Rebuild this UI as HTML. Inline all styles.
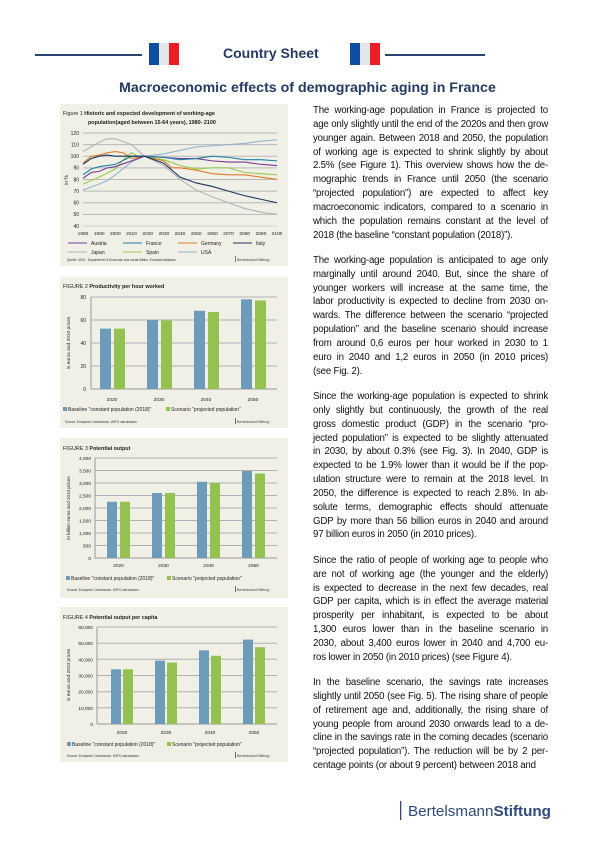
<!DOCTYPE html>
<html><head><meta charset="utf-8"><style>
html,body{margin:0;padding:0;background:#fff;}
body{width:610px;height:856px;position:relative;overflow:hidden;font-family:"Liberation Sans",Arial,sans-serif;}
.hdr{position:absolute;color:#233a66;font-weight:bold;white-space:nowrap;}
.txt{position:absolute;left:313px;width:235px;font-size:9.7px;letter-spacing:-0.2px;line-height:13.85px;color:#111;}
.txt div{text-align:justify;text-align-last:justify;white-space:nowrap;}
.txt div.l{text-align-last:left;}
.p{margin-bottom:11.5px;}
svg text{font-family:"Liberation Sans",Arial,sans-serif;}
</style></head><body>
<svg width="610" height="856" style="position:absolute;left:0;top:0">
<rect x="35" y="54" width="107" height="2" fill="#2c4270"/>
<rect x="385" y="54" width="100" height="2" fill="#2c4270"/>
<rect x="149" y="43" width="10" height="22" fill="#0d4fa3"/><rect x="159" y="43" width="10" height="22" fill="#e3e6e6"/><rect x="169" y="43" width="10" height="22" fill="#ee1c25"/>
<rect x="350" y="43" width="10" height="22" fill="#0d4fa3"/><rect x="360" y="43" width="10" height="22" fill="#e3e6e6"/><rect x="370" y="43" width="10" height="22" fill="#ee1c25"/>

<rect x="60" y="104" width="228" height="162" fill="#f0f0e7"/>
<rect x="60" y="277" width="228" height="151" fill="#f0f0e7"/>
<rect x="60" y="438" width="228" height="160" fill="#f0f0e7"/>
<rect x="60" y="607" width="228" height="155" fill="#f0f0e7"/>

<!-- FIG 1 -->
<text x="63" y="115" font-size="5.4" fill="#222">Figure 1  <tspan font-weight="bold">Historic and expected development of working-age</tspan></text>
<text x="88" y="124" font-size="5.4" font-weight="bold" fill="#222">population(aged between 15-64 years), 1980- 2100</text>
<g stroke="#b8b8b8" stroke-width="1">
<line x1="83" y1="133" x2="277" y2="133"/><line x1="83" y1="144.6" x2="277" y2="144.6"/><line x1="83" y1="156.2" x2="277" y2="156.2"/><line x1="83" y1="167.9" x2="277" y2="167.9"/><line x1="83" y1="179.5" x2="277" y2="179.5"/><line x1="83" y1="191.1" x2="277" y2="191.1"/><line x1="83" y1="202.7" x2="277" y2="202.7"/><line x1="83" y1="214.4" x2="277" y2="214.4"/>
</g>
<line x1="83" y1="226" x2="277" y2="226" stroke="#c8c8c8" stroke-width="1.5" stroke-dasharray="1,1"/>
<g font-size="5" fill="#222" text-anchor="end">
<text x="79" y="135">120</text><text x="79" y="146.5">110</text><text x="79" y="158">100</text><text x="79" y="169.7">90</text><text x="79" y="181.3">80</text><text x="79" y="193">70</text><text x="79" y="204.5">60</text><text x="79" y="216.2">50</text><text x="79" y="227.8">40</text>
</g>
<text transform="translate(68,180) rotate(-90)" font-size="5" text-anchor="middle" fill="#222">in %</text>
<g font-size="4.8" fill="#222" text-anchor="middle">
<text x="83" y="235">1980</text><text x="99.2" y="235">1990</text><text x="115.3" y="235">2000</text><text x="131.5" y="235">2010</text><text x="147.7" y="235">2020</text><text x="163.9" y="235">2030</text><text x="180" y="235">2040</text><text x="196.2" y="235">2050</text><text x="212.4" y="235">2060</text><text x="228.5" y="235">2070</text><text x="244.7" y="235">2080</text><text x="260.9" y="235">2090</text><text x="277" y="235">2100</text>
</g>
<g transform="translate(83,226) scale(1.617,-1.163) translate(-1980,-40)" fill="none" stroke-width="1.1">
<polyline vector-effect="non-scaling-stroke" stroke="#b3b3b3" points="1980,104 1990,112 1995,115 2000,115 2010,110 2018,100 2030,92 2040,80 2050,71 2060,65 2070,60 2080,55 2090,52 2100,50"/>
<polyline vector-effect="non-scaling-stroke" stroke="#8fb4d0" points="1980,71 1990,76 1995,79 2000,84 2010,95 2018,100 2030,102 2040,105 2050,108 2060,109 2070,110 2080,111 2090,113 2100,114"/>
<polyline vector-effect="non-scaling-stroke" stroke="#9acd4b" points="1980,76 1990,82 2000,89 2005,97 2010,103 2015,99 2018,100 2030,97 2040,92 2050,89 2060,90 2070,90 2080,86 2090,85 2100,84"/>
<polyline vector-effect="non-scaling-stroke" stroke="#e07b2a" points="1980,94 1985,100 1990,101 1995,103 2000,104 2005,103 2010,98 2018,100 2030,96 2035,90 2040,90 2050,88 2060,85 2070,84 2080,84 2090,82 2100,80"/>
<polyline vector-effect="non-scaling-stroke" stroke="#7a3a95" points="1980,81 1985,86 1990,87 1995,90 2000,91 2010,96 2018,100 2030,99 2040,98 2050,98 2060,96 2070,95 2080,95 2090,93 2100,92"/>
<polyline vector-effect="non-scaling-stroke" stroke="#1f7fa8" points="1980,84 1985,89 1990,91 2000,93 2010,100 2018,100 2030,99 2040,97 2050,98 2060,100 2070,99 2080,97 2090,97 2100,96"/>
<polyline vector-effect="non-scaling-stroke" stroke="#17375e" points="1980,93 1985,98 1990,100 1995,101 2000,100 2010,100 2018,100 2030,94 2040,82 2050,77 2060,74 2070,70 2080,66 2090,63 2100,60"/>
</g>
<g font-size="5" fill="#222">
<line x1="68" y1="243" x2="87" y2="243" stroke="#7a3a95"/><text x="91" y="245">Austria</text>
<line x1="123" y1="243" x2="142" y2="243" stroke="#1f7fa8"/><text x="146" y="245">France</text>
<line x1="178" y1="243" x2="197" y2="243" stroke="#e07b2a"/><text x="201" y="245">Germany</text>
<line x1="233" y1="243" x2="252" y2="243" stroke="#17375e"/><text x="256" y="245">Italy</text>
<line x1="68" y1="252" x2="87" y2="252" stroke="#b3b3b3"/><text x="91" y="254">Japan</text>
<line x1="123" y1="252" x2="142" y2="252" stroke="#9acd4b"/><text x="146" y="254">Spain</text>
<line x1="178" y1="252" x2="197" y2="252" stroke="#8fb4d0"/><text x="201" y="254">USA</text>
</g>
<text x="67" y="261" font-size="3.2" fill="#333">Quelle: UNO - Department of Economic and social Affairs, Eurostat database.</text>
<rect x="235" y="256" width="0.6" height="6" fill="#333"/><text x="237" y="261" font-size="3.6" fill="#444">BertelsmannStiftung</text>

<!-- FIG 2 -->
<text x="63" y="288" font-size="5.4" fill="#222">FIGURE 2  <tspan font-weight="bold">Productivity per hour worked</tspan></text>
<g stroke="#b0b0b0" stroke-width="1"><line x1="91" y1="297" x2="277" y2="297"/><line x1="91" y1="320" x2="277" y2="320"/><line x1="91" y1="343" x2="277" y2="343"/><line x1="91" y1="366" x2="277" y2="366"/></g>
<line x1="91" y1="389" x2="277" y2="389" stroke="#999"/><line x1="91" y1="297" x2="91" y2="389" stroke="#999"/>
<g font-size="5" fill="#222" text-anchor="end"><text x="86" y="299">80</text><text x="86" y="322">60</text><text x="86" y="345">40</text><text x="86" y="368">20</text><text x="86" y="391">0</text></g>
<text transform="translate(70,343) rotate(-90)" font-size="4.8" text-anchor="middle" fill="#222">in euros and 2010 prices</text>
<g fill="#6d9cba"><rect x="100" y="328.6" width="11" height="60.4"/><rect x="147" y="320" width="11" height="69"/><rect x="194" y="310.8" width="11" height="78.2"/><rect x="241" y="299.3" width="11" height="89.7"/></g>
<g fill="#94c14f"><rect x="114" y="328.6" width="11" height="60.4"/><rect x="161" y="320.6" width="11" height="68.4"/><rect x="208" y="312" width="11" height="77"/><rect x="255" y="300.5" width="11" height="88.5"/></g>
<g font-size="4.8" fill="#222" text-anchor="middle"><text x="112" y="401">2020</text><text x="159" y="401">2030</text><text x="206" y="401">2040</text><text x="253" y="401">2050</text></g>
<rect x="63" y="407" width="4" height="4" fill="#6d9cba"/><text x="68" y="411" font-size="5" fill="#222">Baseline "constant population (2018)"</text>
<rect x="166" y="407" width="4" height="4" fill="#94c14f"/><text x="171" y="411" font-size="5" fill="#222">Scenario "projected population"</text>
<text x="65" y="423" font-size="3.2" fill="#333">Source: European Commission, WIFO calculations.</text>
<rect x="235" y="418" width="0.6" height="6" fill="#111"/><text x="237" y="423" font-size="3.6" fill="#444">BertelsmannStiftung</text>

<!-- FIG 3 -->
<text x="63" y="450" font-size="5.4" fill="#222">FIGURE 3  <tspan font-weight="bold">Potential output</tspan></text>
<g stroke="#b0b0b0" stroke-width="1"><line x1="95" y1="458" x2="277" y2="458"/><line x1="95" y1="470.5" x2="277" y2="470.5"/><line x1="95" y1="483" x2="277" y2="483"/><line x1="95" y1="495.5" x2="277" y2="495.5"/><line x1="95" y1="508" x2="277" y2="508"/><line x1="95" y1="520.5" x2="277" y2="520.5"/><line x1="95" y1="533" x2="277" y2="533"/><line x1="95" y1="545.5" x2="277" y2="545.5"/></g>
<line x1="95" y1="558" x2="277" y2="558" stroke="#999"/><line x1="95" y1="458" x2="95" y2="558" stroke="#999"/>
<g font-size="4.8" fill="#222" text-anchor="end"><text x="91" y="460">4,000</text><text x="91" y="472.5">3,500</text><text x="91" y="485">3,000</text><text x="91" y="497.5">2,500</text><text x="91" y="510">2,000</text><text x="91" y="522.5">1,500</text><text x="91" y="535">1,000</text><text x="91" y="547.5">500</text><text x="91" y="560">0</text></g>
<text transform="translate(70,508) rotate(-90)" font-size="4.6" text-anchor="middle" fill="#222">in billion euros and 2010 prices</text>
<g fill="#6d9cba"><rect x="107" y="501.75" width="10" height="56.25"/><rect x="152" y="493" width="10" height="65"/><rect x="197" y="481.75" width="10" height="76.25"/><rect x="242" y="471" width="10" height="87"/></g>
<g fill="#94c14f"><rect x="120" y="501.75" width="10" height="56.25"/><rect x="165" y="493" width="10" height="65"/><rect x="210" y="483" width="10" height="75"/><rect x="255" y="473.5" width="10" height="84.5"/></g>
<g font-size="4.8" fill="#222" text-anchor="middle"><text x="118.5" y="567">2020</text><text x="163.5" y="567">2030</text><text x="208.5" y="567">2040</text><text x="253.5" y="567">2050</text></g>
<rect x="66" y="576" width="4" height="4" fill="#6d9cba"/><text x="71" y="580" font-size="5" fill="#222">Baseline "constant population (2018)"</text>
<rect x="167" y="576" width="4" height="4" fill="#94c14f"/><text x="172" y="580" font-size="5" fill="#222">Scenario "projected population"</text>
<text x="67" y="591" font-size="3.2" fill="#333">Source: European Commission, WIFO calculations.</text>
<rect x="235" y="586" width="0.6" height="6" fill="#111"/><text x="237" y="591" font-size="3.6" fill="#444">BertelsmannStiftung</text>

<!-- FIG 4 -->
<text x="63" y="619" font-size="5.4" fill="#222">FIGURE 4  <tspan font-weight="bold">Potential output per capita</tspan></text>
<g stroke="#b0b0b0" stroke-width="1"><line x1="97" y1="627" x2="277" y2="627"/><line x1="97" y1="643.2" x2="277" y2="643.2"/><line x1="97" y1="659.3" x2="277" y2="659.3"/><line x1="97" y1="675.5" x2="277" y2="675.5"/><line x1="97" y1="691.7" x2="277" y2="691.7"/><line x1="97" y1="707.8" x2="277" y2="707.8"/></g>
<line x1="97" y1="724" x2="277" y2="724" stroke="#999"/><line x1="97" y1="627" x2="97" y2="724" stroke="#999"/>
<g font-size="4.8" fill="#222" text-anchor="end"><text x="93" y="629">60,000</text><text x="93" y="645.2">50,000</text><text x="93" y="661.3">40,000</text><text x="93" y="677.5">30,000</text><text x="93" y="693.7">20,000</text><text x="93" y="709.8">10,000</text><text x="93" y="726">0</text></g>
<text transform="translate(70,675) rotate(-90)" font-size="4.8" text-anchor="middle" fill="#222">in euros and 2010 prices</text>
<g fill="#6d9cba"><rect x="111" y="669.3" width="10" height="54.7"/><rect x="155" y="660.6" width="10" height="63.4"/><rect x="199" y="650.3" width="10" height="73.7"/><rect x="243" y="639.6" width="10" height="84.4"/></g>
<g fill="#94c14f"><rect x="123" y="669.3" width="10" height="54.7"/><rect x="167" y="662.6" width="10" height="61.4"/><rect x="211" y="655.8" width="10" height="68.2"/><rect x="255" y="647.2" width="10" height="76.8"/></g>
<g font-size="4.8" fill="#222" text-anchor="middle"><text x="122" y="734">2020</text><text x="166" y="734">2030</text><text x="210" y="734">2040</text><text x="254" y="734">2050</text></g>
<rect x="67" y="742" width="4" height="4" fill="#6d9cba"/><text x="72" y="746" font-size="5" fill="#222">Baseline "constant population (2018)"</text>
<rect x="167" y="742" width="4" height="4" fill="#94c14f"/><text x="172" y="746" font-size="5" fill="#222">Scenario "projected population"</text>
<text x="67" y="757" font-size="3.2" fill="#333">Source: European Commission, WIFO calculations.</text>
<rect x="235" y="752" width="0.6" height="6" fill="#111"/><text x="237" y="757" font-size="3.6" fill="#444">BertelsmannStiftung</text>

<rect x="400" y="801" width="1.3" height="19" fill="#2d4a7a"/>
<text x="408" y="816" font-size="15" fill="#2d4a7a" font-family="'DejaVu Sans',sans-serif" textLength="143" lengthAdjust="spacingAndGlyphs">Bertelsmann<tspan font-weight="bold">Stiftung</tspan></text>
</svg>

<div class="hdr" style="left:223px;top:45px;font-size:14px;">Country Sheet</div>
<div class="hdr" style="left:119px;top:80px;font-size:14.2px;">Macroeconomic effects of demographic aging in France</div>

<div class="txt" style="top:104px">
<div class="p">
<div>The working-age population in France is projected to</div>
<div>age only slightly until the end of the 2020s and then grow</div>
<div>younger again. Between 2018 and 2050, the population</div>
<div>of working age is expected to shrink slightly by about</div>
<div>2.5% (see Figure 1). This overview shows how the de-</div>
<div>mographic trends in France until 2050 (the scenario</div>
<div>“projected population”) are expected to affect key</div>
<div>macroeconomic indicators, compared to a scenario in</div>
<div>which the population remains constant at the level of</div>
<div class="l">2018 (the baseline “constant population (2018)”).</div>
</div>
<div class="p">
<div>The working-age population is anticipated to age only</div>
<div>marginally until around 2040. But, since the share of</div>
<div>younger workers will increase at the same time, the</div>
<div>labor productivity is expected to decline from 2030 on-</div>
<div>wards. The difference between the scenario “projected</div>
<div>population” and the baseline scenario should increase</div>
<div>from around 0,6 euros per hour worked in 2030 to 1</div>
<div>euro in 2040 and 1,2 euros in 2050 (in 2010 prices)</div>
<div class="l">(see Fig. 2).</div>
</div>
<div class="p">
<div>Since the working-age population is expected to shrink</div>
<div>only slightly but continuously, the growth of the real</div>
<div>gross domestic product (GDP) in the scenario “pro-</div>
<div>jected population” is expected to be slightly attenuated</div>
<div>in 2030, by about 0.3% (see Fig. 3). In 2040, GDP is</div>
<div>expected to be 1.9% lower than it would be if the pop-</div>
<div>ulation structure were to remain at the 2018 level. In</div>
<div>2050, the difference is expected to reach 2.8%. In ab-</div>
<div>solute terms, demographic effects should attenuate</div>
<div>GDP by more than 56 billion euros in 2040 and around</div>
<div class="l">97 billion euros in 2050 (in 2010 prices).</div>
</div>
<div class="p">
<div>Since the ratio of people of working age to people who</div>
<div>are not of working age (the younger and the elderly)</div>
<div>is expected to decrease in the next few decades, real</div>
<div>GDP per capita, which is in effect the average material</div>
<div>prosperity per inhabitant, is expected to be about</div>
<div>1,300 euros lower than in the baseline scenario in</div>
<div>2030, about 3,400 euros lower in 2040 and 4,700 eu-</div>
<div class="l">ros lower in 2050 (in 2010 prices) (see Figure 4).</div>
</div>
<div class="p">
<div>In the baseline scenario, the savings rate increases</div>
<div>slightly until 2050 (see Fig. 5). The rising share of people</div>
<div>of retirement age and, additionally, the rising share of</div>
<div>young people from around 2030 onwards lead to a de-</div>
<div>cline in the savings rate in the coming decades (scenario</div>
<div>“projected population”). The reduction will be by 2 per-</div>
<div class="l">centage points (or about 9 percent) between 2018 and</div>
</div>
</div>
</body></html>
